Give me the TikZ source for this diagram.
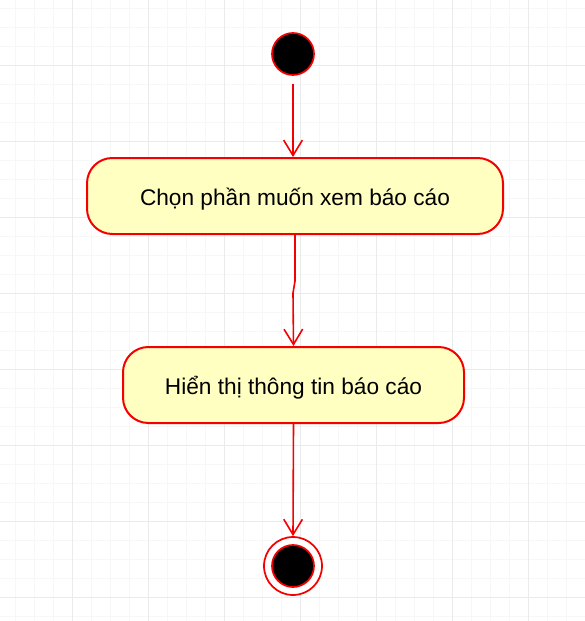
\documentclass[tikz,border=0pt]{standalone}
\usepackage{fontspec}
\setmainfont{Liberation Sans}
\usetikzlibrary{positioning,arrows.meta}
\definecolor{gridminor}{RGB}{247,247,247}
\definecolor{gridmajor}{RGB}{235,235,235}
\definecolor{actfill}{RGB}{255,255,194}
\definecolor{umlred}{RGB}{245,0,0}

\begin{document}
\begin{tikzpicture}[x=0.75pt,y=-0.75pt,
    action/.style={draw=umlred, fill=actfill, line width=1.5pt, rounded corners=19pt,
      minimum height=57pt, text height=17pt, text depth=3pt, font=\fontsize{17}{20}\selectfont},
    startdot/.style={circle, draw=umlred, fill=black, line width=1.3pt, minimum size=31.5pt, inner sep=0pt},
    enddot/.style={circle, draw=umlred, fill=white, line width=1.3pt, minimum size=43.5pt, inner sep=0pt},
    flow/.style={draw=umlred, line width=1.2pt, -{Straight Barb[length=11.5pt,width=14pt,line width=1.2pt]}}]
  \useasboundingbox (0,0) rectangle (585,621);
  % background grid
  \foreach \gx in {15,34,...,585} \draw[gridminor, line width=0.75pt] (\gx,0) -- (\gx,621);
  \foreach \gy in {8,27,...,621} \draw[gridminor, line width=0.75pt] (0,\gy) -- (585,\gy);
  \foreach \gx in {72,148,...,585} \draw[gridmajor, line width=0.75pt] (\gx,0) -- (\gx,621);
  \foreach \gy in {65,141,...,621} \draw[gridmajor, line width=0.75pt] (0,\gy) -- (585,\gy);

  \node[startdot] (start) at (293,54) {};
  \node[action, minimum width=312pt] (choose) at (295,196) {Chọn phần muốn xem báo cáo};
  \node[action, minimum width=255.75pt] (show) at (293.5,385) {Hiển thị thông tin báo cáo};
  \node[enddot] (stop) at (293,566) {};
  \node[startdot] (stopdot) at (stop) {};

  \draw[flow] ([yshift=-6pt]start.south) -- (start |- choose.north);
  \draw[flow] (choose.south) -- ++(0,46) -- ++(-2,12) -- (show.north);
  \draw[flow] (show.south) -- (stop.north);
\end{tikzpicture}
\end{document}
